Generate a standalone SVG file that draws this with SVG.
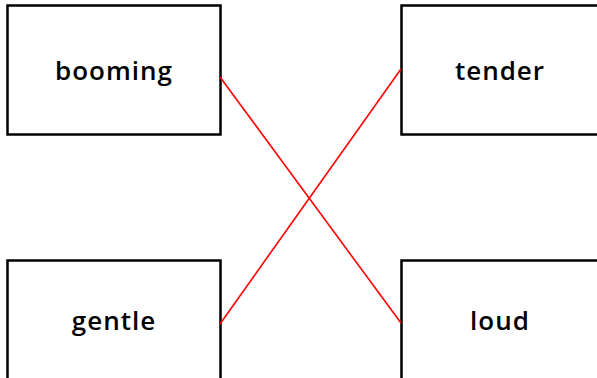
<svg xmlns="http://www.w3.org/2000/svg" width="597" height="378" viewBox="0 0 597 378">
<style>
.box{fill:#fff;stroke:#000;stroke-width:2.5}
.lbl{font-family:"Open Sans","Liberation Sans",sans-serif;font-weight:600;font-size:26px;letter-spacing:1px;fill:#000;text-anchor:middle}
.conn{stroke:#ff0000;stroke-width:1.6;fill:none}
</style>
<rect width="597" height="378" fill="#fff"/>
<g id="booming"><rect class="box" x="7.5" y="5.5" width="213" height="129"/><text class="lbl" x="114" y="80">booming</text></g>
<g id="tender"><rect class="box" x="401.5" y="5.5" width="213" height="129"/><text class="lbl" x="500" y="80">tender</text></g>
<g id="gentle"><rect class="box" x="7.5" y="260.5" width="213" height="129"/><text class="lbl" x="114" y="330">gentle</text></g>
<g id="loud"><rect class="box" x="401.5" y="260.5" width="213" height="129"/><text class="lbl" x="500" y="330">loud</text></g>
<g id="connectors">
<line class="conn" x1="220" y1="77" x2="401" y2="323"/>
<line class="conn" x1="220" y1="324" x2="401" y2="69"/>
</g>
</svg>
